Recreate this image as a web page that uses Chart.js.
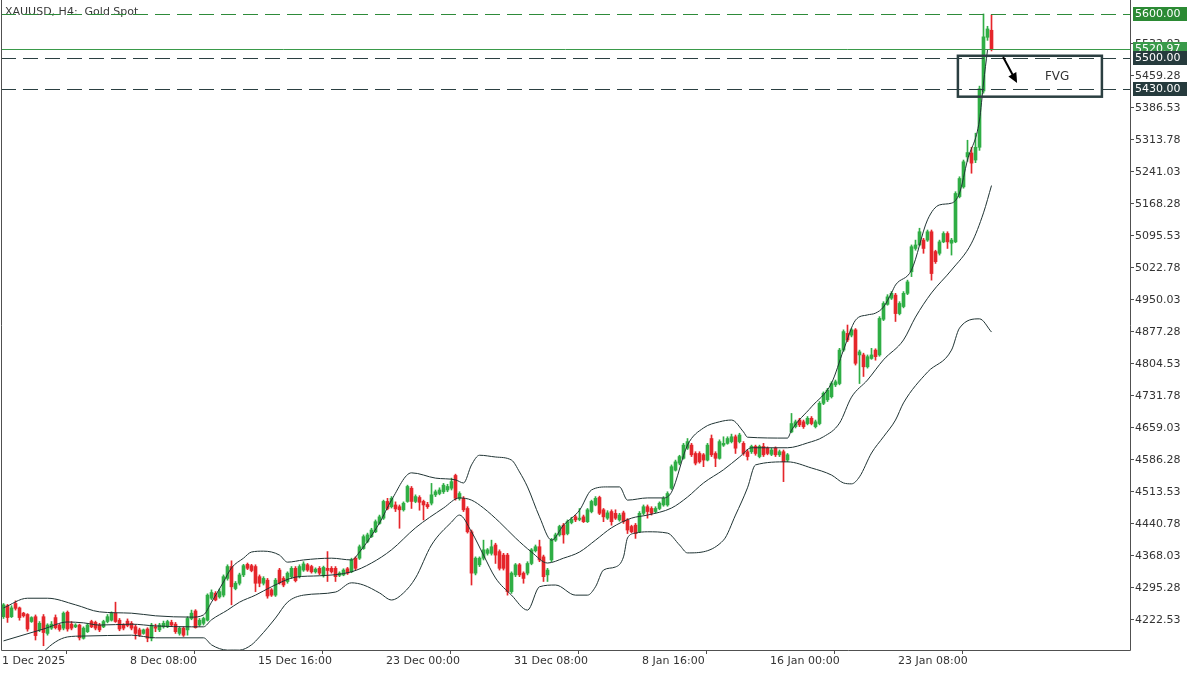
<!DOCTYPE html>
<html lang="en">
<head>
<meta charset="UTF-8">
<title>XAUUSD, H4: Gold Spot</title>
<script src="https://cdn.jsdelivr.net/npm/chart.js"></script>
<style>
  html, body { margin: 0; padding: 0; background: #ffffff; }
  canvas { display: block; }
</style>
</head>
<body>
<canvas id="xau" width="1200" height="675"></canvas>
<script>
// H4 candles, one row per bar: [open, high, low, close]
const ohlc = [
  [4230,4260,4226,4257],[4255,4258,4217,4228],[4230,4255,4228,4250],[4260,4266,4245,4249],
  [4250,4252,4222,4228],[4238,4240,4229,4232],[4235,4237,4197,4202],[4219,4230,4217,4228],
  [4230,4234,4177,4187],[4200,4219,4196,4215],[4230,4235,4164,4194],[4192,4214,4188,4211],
  [4204,4219,4201,4213],[4228,4234,4202,4205],[4211,4213,4197,4201],[4204,4241,4200,4238],
  [4240,4243,4197,4202],[4213,4219,4200,4204],[4207,4214,4205,4211],[4211,4213,4177,4182],
  [4181,4207,4179,4204],[4196,4215,4194,4211],[4219,4222,4205,4207],[4217,4220,4200,4204],
  [4211,4215,4196,4200],[4207,4222,4205,4219],[4219,4235,4216,4230],[4222,4241,4220,4238],
  [4238,4263,4217,4219],[4222,4226,4198,4202],[4211,4214,4200,4204],[4220,4225,4207,4210],
  [4215,4219,4200,4204],[4207,4211,4179,4192],[4200,4204,4185,4188],[4192,4202,4190,4200],
  [4202,4205,4173,4181],[4181,4215,4175,4211],[4207,4213,4196,4204],[4200,4215,4196,4211],
  [4207,4220,4204,4215],[4207,4222,4205,4219],[4217,4222,4208,4211],[4213,4217,4192,4196],
  [4192,4207,4188,4204],[4204,4207,4185,4188],[4200,4230,4188,4226],[4226,4245,4223,4238],
  [4243,4246,4204,4205],[4211,4226,4208,4222],[4215,4229,4211,4226],[4222,4282,4220,4279],
  [4272,4291,4269,4285],[4283,4287,4266,4268],[4275,4293,4272,4287],[4279,4325,4275,4321],
  [4317,4348,4313,4344],[4344,4357,4257,4298],[4294,4310,4291,4306],[4306,4329,4302,4325],
  [4325,4349,4321,4346],[4349,4352,4337,4340],[4346,4349,4332,4335],[4344,4348,4287,4306],
  [4321,4325,4298,4306],[4306,4321,4302,4317],[4313,4317,4272,4277],[4291,4294,4276,4279],
  [4279,4317,4276,4313],[4336,4340,4304,4307],[4317,4321,4298,4302],[4310,4332,4306,4329],
  [4321,4344,4317,4340],[4340,4344,4309,4312],[4321,4348,4318,4344],[4336,4355,4333,4350],
  [4348,4351,4333,4336],[4344,4347,4329,4332],[4332,4341,4329,4338],[4340,4344,4325,4329],
  [4323,4345,4320,4342],[4340,4378,4310,4335],[4340,4344,4329,4332],[4340,4344,4310,4321],
  [4324,4332,4321,4329],[4325,4339,4323,4336],[4339,4342,4326,4329],[4332,4363,4330,4359],
  [4363,4366,4336,4340],[4363,4393,4360,4389],[4385,4416,4383,4412],[4401,4420,4398,4416],
  [4412,4431,4410,4427],[4423,4450,4421,4446],[4442,4461,4440,4457],[4454,4495,4451,4492],
  [4492,4499,4473,4476],[4480,4503,4477,4499],[4484,4491,4469,4475],[4480,4484,4431,4473],
  [4473,4491,4470,4488],[4492,4529,4490,4526],[4522,4526,4476,4492],[4492,4507,4489,4503],
  [4501,4505,4472,4490],[4492,4495,4450,4484],[4485,4490,4476,4480],[4488,4533,4484,4507],
  [4507,4518,4503,4514],[4510,4523,4507,4518],[4514,4533,4510,4529],[4518,4531,4514,4526],
  [4522,4545,4518,4537],[4551,4554,4495,4499],[4499,4514,4495,4510],[4499,4503,4469,4473],
  [4476,4480,4420,4423],[4423,4427,4302,4329],[4329,4366,4325,4363],[4348,4366,4344,4363],
  [4363,4404,4359,4382],[4374,4385,4370,4382],[4374,4404,4370,4389],[4393,4397,4351,4370],
  [4378,4382,4336,4340],[4370,4374,4336,4340],[4370,4374,4279,4287],[4287,4332,4283,4329],
  [4325,4351,4321,4348],[4348,4351,4321,4325],[4329,4332,4306,4317],[4329,4355,4325,4351],
  [4351,4385,4348,4382],[4380,4393,4377,4389],[4389,4404,4355,4359],[4366,4370,4310,4321],
  [4325,4340,4310,4336],[4359,4408,4355,4404],[4404,4420,4401,4416],[4416,4438,4413,4435],
  [4438,4442,4397,4416],[4419,4450,4416,4446],[4444,4456,4441,4451],[4457,4461,4446,4450],
  [4451,4476,4448,4454],[4457,4461,4444,4446],[4446,4476,4444,4473],[4469,4495,4466,4492],
  [4484,4503,4482,4499],[4501,4504,4462,4465],[4473,4476,4446,4457],[4454,4471,4451,4466],
  [4469,4473,4438,4446],[4465,4473,4451,4454],[4450,4465,4447,4461],[4466,4470,4442,4446],
  [4450,4453,4419,4427],[4435,4438,4421,4423],[4438,4442,4408,4419],[4423,4469,4421,4465],
  [4465,4484,4461,4480],[4480,4484,4454,4469],[4476,4480,4461,4465],[4469,4480,4466,4476],
  [4476,4491,4473,4488],[4484,4503,4481,4499],[4484,4514,4481,4510],[4522,4575,4519,4571],
  [4563,4586,4561,4582],[4579,4597,4575,4594],[4590,4624,4588,4620],[4613,4635,4610,4628],
  [4620,4624,4594,4598],[4601,4605,4575,4579],[4601,4605,4579,4582],[4598,4601,4571,4586],
  [4586,4624,4584,4620],[4635,4643,4594,4598],[4601,4605,4571,4590],[4590,4632,4588,4628],
  [4620,4639,4617,4624],[4624,4639,4622,4635],[4628,4645,4625,4639],[4639,4643,4601,4613],
  [4628,4647,4625,4643],[4624,4628,4597,4601],[4605,4609,4586,4594],[4605,4620,4601,4617],
  [4617,4620,4597,4601],[4594,4620,4591,4617],[4617,4624,4594,4598],[4613,4616,4598,4601],
  [4599,4613,4596,4609],[4613,4616,4594,4598],[4598,4609,4594,4605],[4605,4609,4537,4582],
  [4586,4601,4582,4598],[4650,4692,4648,4669],[4662,4677,4659,4673],[4677,4681,4662,4666],
  [4673,4677,4658,4662],[4669,4685,4666,4681],[4681,4685,4666,4669],[4662,4677,4659,4673],
  [4669,4719,4666,4715],[4715,4741,4712,4738],[4723,4749,4719,4745],[4730,4764,4727,4760],
  [4757,4768,4753,4764],[4760,4840,4757,4836],[4836,4882,4833,4878],[4874,4893,4855,4859],
  [4870,4885,4866,4882],[4882,4885,4802,4806],[4825,4836,4760,4832],[4825,4829,4776,4798],
  [4798,4825,4795,4821],[4817,4840,4815,4825],[4836,4839,4813,4821],[4825,4912,4822,4908],
  [4906,4946,4903,4942],[4940,4962,4938,4957],[4954,4969,4951,4965],[4961,4965,4901,4919],
  [4919,4946,4916,4942],[4935,4969,4932,4965],[4965,4995,4962,4991],[5014,5075,5003,5071],
  [5067,5086,5063,5075],[5075,5113,5073,5105],[5086,5090,5056,5067],[5086,5109,5083,5105],
  [5105,5109,4995,5010],[5060,5063,5033,5037],[5056,5086,5052,5082],[5082,5105,5080,5101],
  [5101,5105,5067,5082],[5079,5090,5052,5086],[5082,5196,5080,5192],[5185,5230,5182,5226],
  [5207,5268,5204,5264],[5275,5313,5265,5285],[5284,5297,5238,5261],[5268,5329,5262,5297],
  [5297,5436,5290,5430],[5425,5600,5420,5548],[5547,5572,5540,5566],[5563,5598,5516,5521]
];

// Bollinger bands, read as [bar index, price]
const upperBand = [
  [0,4250],[6,4272],[11,4272],[18,4257],[24,4241],[32,4238],[38,4232],[47,4229],[50,4234],
  [52,4263],[55,4309],[57,4341],[60,4363],[62,4377],[65,4379],[69,4370],[71,4354],[75,4359],
  [82,4363],[87,4359],[89,4377],[94,4443],[97,4495],[102,4557],[108,4545],[113,4541],[115,4534],
  [117,4575],[119,4597],[123,4593],[127,4586],[129,4559],[131,4525],[134,4457],[137,4404],
  [140,4438],[144,4472],[147,4518],[151,4525],[154,4525],[156,4495],[161,4500],[165,4500],
  [167,4513],[171,4620],[175,4659],[179,4673],[182,4677],[185,4650],[186,4638],[196,4636],
  [197,4654],[202,4707],[207,4761],[210,4836],[213,4904],[216,4916],[218,4920],[220,4934],
  [222,4966],[223,4984],[227,5018],[231,5132],[234,5166],[237,5170],[239,5193],[241,5268],
  [244,5359],[245,5443],[246,5518]
];
const midBand = [
  [0,4175],[10,4202],[16,4218],[20,4216],[24,4211],[32,4213],[38,4209],[47,4207],[50,4207],
  [52,4223],[56,4245],[59,4263],[63,4279],[67,4298],[73,4320],[79,4323],[87,4332],[92,4352],
  [97,4382],[103,4432],[110,4477],[114,4500],[117,4495],[120,4477],[124,4445],[128,4409],
  [132,4377],[136,4352],[140,4363],[144,4377],[148,4404],[152,4432],[157,4454],[161,4461],
  [167,4477],[171,4502],[175,4534],[180,4564],[184,4593],[187,4614],[196,4614],[201,4625],
  [205,4639],[209,4670],[212,4729],[216,4768],[220,4814],[225,4859],[228,4911],[232,4966],
  [237,5018],[242,5079],[245,5148],[247,5210]
];
const lowerBand = [
  [8,4125],[10,4150],[16,4184],[20,4186],[32,4188],[38,4182],[50,4182],[52,4166],[56,4154],
  [59,4154],[62,4166],[64,4184],[68,4227],[71,4263],[75,4279],[83,4286],[87,4307],[90,4302],
  [94,4284],[97,4268],[100,4284],[103,4318],[107,4393],[112,4445],[114,4461],[117,4423],
  [120,4370],[123,4318],[127,4279],[131,4245],[134,4298],[138,4302],[143,4279],[146,4279],
  [148,4298],[150,4336],[153,4343],[155,4366],[156,4409],[158,4420],[161,4423],[166,4420],
  [169,4393],[171,4375],[180,4404],[183,4461],[186,4523],[188,4575],[196,4582],[202,4568],
  [207,4552],[210,4534],[212,4532],[214,4548],[217,4602],[220,4639],[223,4677],[225,4716],
  [231,4786],[237,4836],[239,4886],[244,4907],[247,4877]
];

const dateTicks = [0, 32, 64, 96, 128, 160, 192, 224];
const dateLabels = ['1 Dec 2025', '8 Dec 08:00', '15 Dec 16:00', '23 Dec 00:00',
                    '31 Dec 08:00', '8 Jan 16:00', '16 Jan 00:00', '23 Jan 08:00'];
const priceTicks = [4222.53, 4295.28, 4368.03, 4440.78, 4513.53, 4586.28, 4659.03, 4731.78,
                    4804.53, 4877.28, 4950.03, 5022.78, 5095.53, 5168.28, 5241.03, 5313.78,
                    5386.53, 5459.28, 5532.03];

const lastPrice = 5520.97;
const levelTop = 5600;
const fvgHigh = 5500;
const fvgLow = 5430;

const UP = '#2fae45';
const DOWN = '#e5262b';
const BAND = '#1f3333';
const DARK = '#2b3f41';
const LEVEL_GREEN = '#2e8b3a';

Chart.defaults.font.family = '"DejaVu Sans", Tahoma, sans-serif';
Chart.defaults.font.size = 11;
Chart.defaults.color = '#333';

const isUp = ohlc.map(c => c[3] >= c[0]);
const candleColors = isUp.map(u => (u ? UP : DOWN));

const overlay = {
  id: 'overlay',
  afterDatasetsDraw(chart) {
    const { ctx, chartArea: a, scales: { x, y } } = chart;
    ctx.save();

    // title
    ctx.fillStyle = '#3a3a3a';
    ctx.font = '11px "DejaVu Sans", sans-serif';
    ctx.textBaseline = 'middle';
    ctx.textAlign = 'left';
    ctx.fillText('XAUUSD, H4:  Gold Spot', 5, 12);

    // horizontal levels
    const hline = (v, color, dash) => {
      const py = Math.round(y.getPixelForValue(v)) + 0.5;
      ctx.strokeStyle = color;
      ctx.lineWidth = 1;
      ctx.setLineDash(dash);
      ctx.beginPath();
      ctx.moveTo(a.left, py);
      ctx.lineTo(a.right, py);
      ctx.stroke();
    };
    hline(levelTop, LEVEL_GREEN, [15, 7]);
    hline(fvgHigh, DARK, [15, 7]);
    hline(fvgLow, DARK, [15, 7]);
    hline(lastPrice, '#3a9a4a', []);
    ctx.setLineDash([]);

    // FVG box
    const bx0 = x.getPixelForValue(238.6), bx1 = x.getPixelForValue(274.6);
    const by0 = y.getPixelForValue(5505), by1 = y.getPixelForValue(5412);
    ctx.strokeStyle = DARK;
    ctx.lineWidth = 2.5;
    ctx.strokeRect(bx0, by0, bx1 - bx0, by1 - by0);
    ctx.fillStyle = '#333';
    ctx.font = '12px "DejaVu Sans", sans-serif';
    ctx.textAlign = 'center';
    ctx.fillText('FVG', x.getPixelForValue(263.4), y.getPixelForValue(5457));

    // arrow
    const ax0 = x.getPixelForValue(249.9), ay0 = y.getPixelForValue(5502);
    const ax1 = x.getPixelForValue(253.4), ay1 = y.getPixelForValue(5443);
    const ang = Math.atan2(ay1 - ay0, ax1 - ax0);
    ctx.strokeStyle = '#000';
    ctx.fillStyle = '#000';
    ctx.lineWidth = 2;
    ctx.beginPath();
    ctx.moveTo(ax0, ay0);
    ctx.lineTo(ax1 - 6 * Math.cos(ang), ay1 - 6 * Math.sin(ang));
    ctx.stroke();
    ctx.beginPath();
    ctx.moveTo(ax1, ay1);
    ctx.lineTo(ax1 - 10 * Math.cos(ang) + 4.5 * Math.sin(ang), ay1 - 10 * Math.sin(ang) - 4.5 * Math.cos(ang));
    ctx.lineTo(ax1 - 10 * Math.cos(ang) - 4.5 * Math.sin(ang), ay1 - 10 * Math.sin(ang) + 4.5 * Math.cos(ang));
    ctx.closePath();
    ctx.fill();

    ctx.restore();
  },
  afterDraw(chart) {
    const { ctx, chartArea: a, scales: { y } } = chart;
    ctx.save();
    // frame
    ctx.strokeStyle = '#505050';
    ctx.lineWidth = 1;
    ctx.beginPath();
    ctx.moveTo(1.5, 0);
    ctx.lineTo(1.5, a.bottom + 0.5);
    ctx.lineTo(a.right + 0.5, a.bottom + 0.5);
    ctx.lineTo(a.right + 0.5, 0);
    ctx.stroke();

    // price tags on the right axis
    const tag = (v, text, bg) => {
      const py = y.getPixelForValue(v);
      ctx.fillStyle = bg;
      ctx.fillRect(a.right + 3, Math.round(py) - 7, 54, 14);
      ctx.fillStyle = '#ffffff';
      ctx.font = '11px "DejaVu Sans", sans-serif';
      ctx.textAlign = 'left';
      ctx.textBaseline = 'middle';
      ctx.fillText(text, a.right + 5, Math.round(py) + 0.5);
    };
    tag(levelTop, '5600.00', '#2b8a34');
    tag(lastPrice, lastPrice.toFixed(2), '#3a9a4a');
    tag(fvgHigh, '5500.00', '#263b3d');
    tag(fvgLow, '5430.00', '#263b3d');
    ctx.restore();
  }
};

new Chart(document.getElementById('xau'), {
  type: 'bar',
  data: {
    datasets: [
      {
        type: 'line', label: 'Upper', data: upperBand.map(p => ({ x: p[0], y: p[1] })),
        borderColor: BAND, borderWidth: 1, pointRadius: 0, fill: false,
        cubicInterpolationMode: 'monotone', order: 0
      },
      {
        type: 'line', label: 'Middle', data: midBand.map(p => ({ x: p[0], y: p[1] })),
        borderColor: BAND, borderWidth: 1, pointRadius: 0, fill: false,
        cubicInterpolationMode: 'monotone', order: 0
      },
      {
        type: 'line', label: 'Lower', data: lowerBand.map(p => ({ x: p[0], y: p[1] })),
        borderColor: BAND, borderWidth: 1, pointRadius: 0, fill: false,
        cubicInterpolationMode: 'monotone', order: 0
      },
      {
        label: 'Body',
        data: ohlc.map((c, i) => ({ x: i, y: [Math.min(c[0], c[3]), Math.max(c[0], c[3])] })),
        backgroundColor: candleColors, borderWidth: 0,
        barThickness: 3, minBarLength: 1, grouped: false, order: 1
      },
      {
        label: 'Wick',
        data: ohlc.map((c, i) => ({ x: i, y: [c[2], c[1]] })),
        backgroundColor: candleColors, borderWidth: 0,
        barThickness: 1, grouped: false, order: 2
      }
    ]
  },
  options: {
    responsive: false,
    animation: false,
    layout: { padding: { top: 5, left: 1, right: 0, bottom: 0 } },
    plugins: { legend: { display: false }, tooltip: { enabled: false } },
    scales: {
      x: {
        type: 'linear',
        min: -0.625,
        max: 281.625,
        offset: false,
        afterBuildTicks: s => { s.ticks = dateTicks.map(v => ({ value: v - 0.375 })); },
        afterFit: s => { s.height = 25; s.paddingLeft = 0; s.paddingRight = 0; },
        grid: { drawOnChartArea: false, drawTicks: true, tickLength: 4, color: '#505050' },
        border: { display: false },
        ticks: {
          autoSkip: false, maxRotation: 0, align: 'start', padding: 1,
          color: '#333',
          callback: (v, i) => dateLabels[i]
        }
      },
      y: {
        type: 'linear',
        position: 'right',
        min: 4154.3,
        max: 5620.4,
        afterBuildTicks: s => { s.ticks = priceTicks.map(v => ({ value: v })); },
        afterFit: s => { s.width = 70; s.paddingTop = 0; s.paddingBottom = 0; },
        grid: { drawOnChartArea: false, drawTicks: true, tickLength: 4, color: '#505050' },
        border: { display: false },
        ticks: { padding: 1, color: '#333', callback: v => v.toFixed(2) }
      }
    }
  },
  plugins: [overlay]
});
</script>
</body>
</html>
